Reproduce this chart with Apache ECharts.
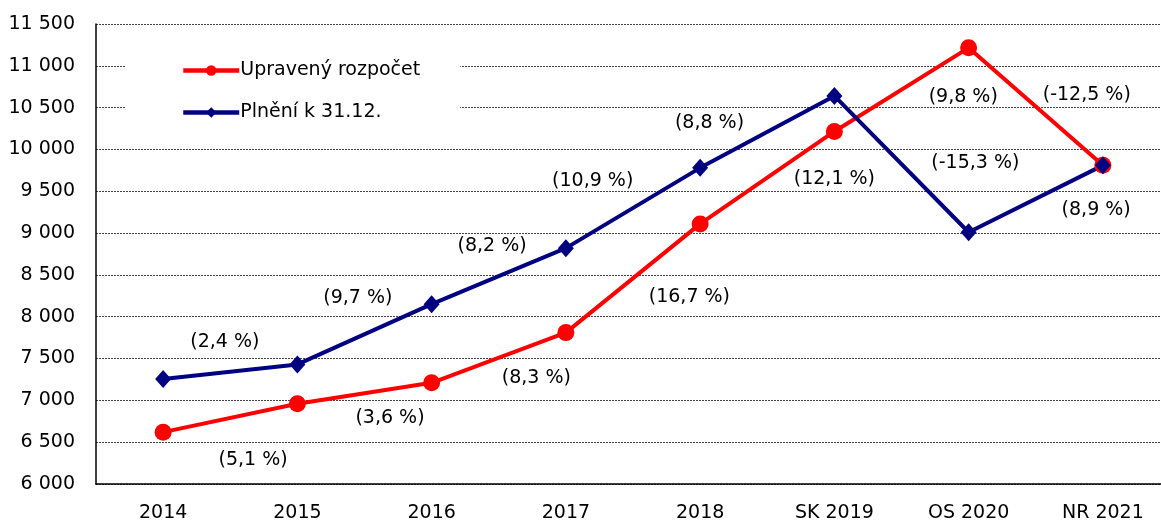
<!DOCTYPE html>
<html>
<head>
<meta charset="utf-8">
<script src="https://cdn.jsdelivr.net/npm/echarts@6/dist/echarts.min.js"></script>
<style>
  html, body { margin: 0; padding: 0; background: #fff; overflow: hidden; }
  #main { width: 1170px; height: 523px; }
</style>
</head>
<body>
<div id="main"></div>
<script>
// data
var categories = ['2014', '2015', '2016', '2017', '2018', 'SK 2019', 'OS 2020', 'NR 2021'];
var upravenyRozpocet = [6620, 6960, 7210, 7810, 9110, 10215, 11215, 9810];
var plneni = [7255, 7430, 8150, 8820, 9780, 10640, 9010, 9810];

// year-on-year change labels
var rozpocetPct = ['(5,1 %)', '(3,6 %)', '(8,3 %)', '(16,7 %)', '(12,1 %)', '(9,8 %)', '(-12,5 %)'];
var plneniPct = ['(2,4 %)', '(9,7 %)', '(8,2 %)', '(10,9 %)', '(8,8 %)', '(-15,3 %)', '(8,9 %)'];

// where the labels sit: [category position, value]
var rozpocetPctPos = [[0.67, 6287], [1.69, 6789], [2.78, 7267], [3.92, 8236], [5.0, 9647], [5.96, 10627], [6.88, 10651]];
var plneniPctPos = [[0.46, 7698], [1.45, 8225], [2.45, 8846], [3.2, 9623], [4.07, 10316], [6.05, 9838], [6.95, 9276]];

var FONT = 'DejaVu Sans';
var FS = 19;

function pctData(texts, pos) {
    var out = [];
    for (var i = 0; i < texts.length; i++) {
        out.push({ name: texts[i], value: pos[i] });
    }
    return out;
}

var chart = echarts.init(document.getElementById('main'));

var option = {
    animation: false,
    textStyle: { fontFamily: FONT },
    grid: { left: 96, right: 0, top: 24, bottom: 39 },
    legend: {
        data: ['Upravený rozpočet', 'Plnění k 31.12.'],
        orient: 'vertical',
        left: 125,
        top: 47,
        padding: [14, 40, 14, 56],
        backgroundColor: '#fff',
        itemWidth: 56,
        itemHeight: 13,
        itemGap: 23,
        lineStyle: { width: 4.5 },
        textStyle: { fontFamily: FONT, fontSize: FS, color: '#000', padding: [0, 0, 0, -4] }
    },
    xAxis: [{
        type: 'category',
        data: categories,
        axisLine: { lineStyle: { color: '#000', width: 1.5 } },
        axisTick: { inside: true, length: 5, lineStyle: { color: '#000' } },
        axisLabel: { fontFamily: FONT, fontSize: FS, color: '#000', margin: 20 }
    }, {
        type: 'value',
        min: -0.5,
        max: 7.5,
        show: false
    }],
    yAxis: {
        type: 'value',
        min: 6000,
        max: 11500,
        interval: 500,
        axisLine: { show: true, onZero: false, lineStyle: { color: '#000', width: 1.5 } },
        axisTick: { show: false },
        splitLine: { lineStyle: { color: '#444', type: [2, 1], width: 1 } },
        axisLabel: {
            fontFamily: FONT, fontSize: FS, color: '#000', margin: 21,
            formatter: function (v) {
                return String(v).replace(/\B(?=(\d{3})+(?!\d))/g, ' ');
            }
        }
    },
    series: [
        {
            name: 'Upravený rozpočet',
            type: 'line',
            data: upravenyRozpocet,
            symbol: 'circle',
            symbolSize: 17,
            color: '#ff0000',
            lineStyle: { width: 4, color: '#ff0000' },
            itemStyle: { color: '#ff0000' }
        },
        {
            name: 'Plnění k 31.12.',
            type: 'line',
            data: plneni,
            symbol: 'diamond',
            symbolSize: [16, 18],
            color: '#000080',
            lineStyle: { width: 4, color: '#000080' },
            itemStyle: { color: '#000080' }
        },
        {
            type: 'scatter',
            xAxisIndex: 1,
            data: pctData(rozpocetPct, rozpocetPctPos).concat(pctData(plneniPct, plneniPctPos)),
            symbolSize: 0,
            silent: true,
            itemStyle: { opacity: 1 },
            label: {
                show: true,
                position: 'inside',
                formatter: '{b}',
                fontFamily: FONT,
                fontSize: FS,
                color: '#000'
            }
        }
    ]
};

chart.setOption(option);
</script>
</body>
</html>
